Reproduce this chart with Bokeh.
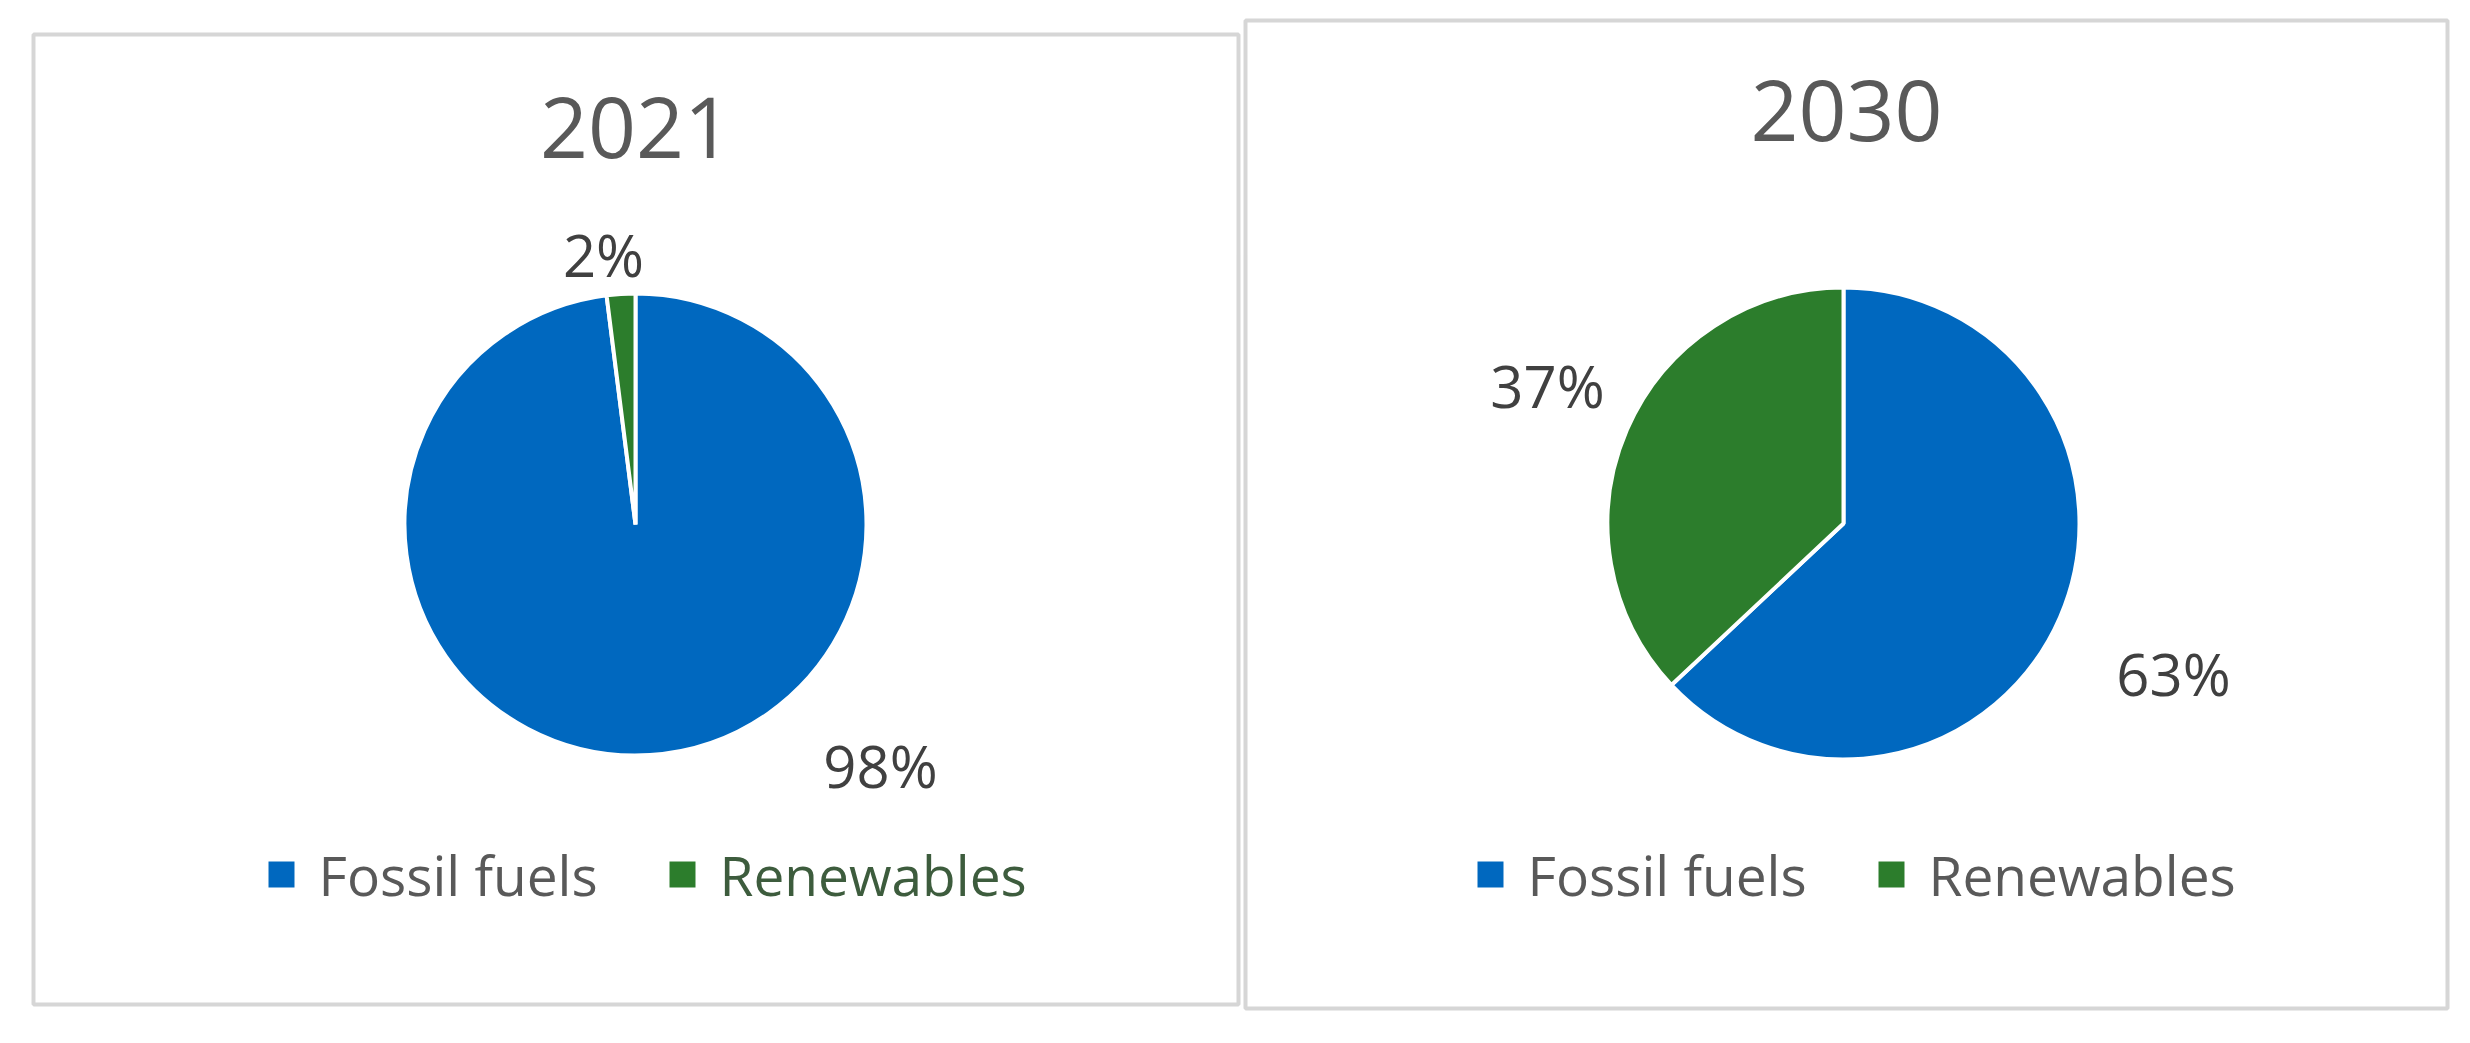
import math
from bokeh.plotting import figure
from bokeh.models import Range1d
from bokeh.core.properties import value
from bokeh.embed import file_html
from bokeh.resources import INLINE

# ---- data ----
years = ["2021", "2030"]
categories = ["Fossil fuels", "Renewables"]
share_2021 = [98, 2]
share_2030 = [63, 37]
shares = [share_2021, share_2030]
colors = ["#0068bf", "#2c7d2c"]

# ---- layout (pixel coordinates inside the figure, y measured from top) ----
W, H = 2454, 1024
panels = [
    dict(box=(33, 34, 1238, 1004), center=(635, 524), r=231, title_y=127,
         legend_y=874, legend_x=281,
         label_off=[(245, 241), (-32, -270)],
         legend_colors=["#595959", "#3d5c3d"]),
    dict(box=(1245, 20, 2447, 1008), center=(1843, 523), r=236, title_y=110,
         legend_y=874, legend_x=1490,
         label_off=[(330, 150), (-296, -138)],
         legend_colors=["#595959", "#595959"]),
]
LEGEND_STEP = 401
LEGEND_TEXT_DX = 37
FONT = "Open Sans"


def Y(y):
    return H - y


p = figure(width=W, height=H, x_range=Range1d(0, W), y_range=Range1d(0, H),
           output_backend="svg", toolbar_location=None, min_border=0)
p.axis.visible = False
p.grid.visible = False
p.outline_line_color = None
p.background_fill_color = "white"
p.border_fill_color = "white"

for year, share, pan in zip(years, shares, panels):
    x0, y0, x1, y1 = pan["box"]
    # panel border
    p.quad(left=[x0], right=[x1], top=[Y(y0)], bottom=[Y(y1)],
           fill_color=None, line_color="#d6d6d6", line_width=4)
    cx, cy = pan["center"]
    # title
    p.text(x=[(x0 + x1) / 2], y=[Y(pan["title_y"])], text=[year],
           text_font=value(FONT), text_font_size="84px", text_color="#595959",
           text_align="center", text_baseline="middle")
    # wedges (clockwise from 12 o'clock)
    total = sum(share)
    cum = 0
    starts, ends = [], []
    for s in share:
        starts.append(math.pi / 2 - 2 * math.pi * cum / total)
        cum += s
        ends.append(math.pi / 2 - 2 * math.pi * cum / total)
    p.wedge(x=[cx] * len(share), y=[Y(cy)] * len(share), radius=pan["r"],
            start_angle=starts, end_angle=ends, direction="clock",
            fill_color=colors, line_color="white", line_width=4)
    # percentage labels
    lx = [cx + dx for dx, dy in pan["label_off"]]
    ly = [Y(cy + dy) for dx, dy in pan["label_off"]]
    p.text(x=lx, y=ly, text=[f"{v}%" for v in share],
           text_font=value(FONT), text_font_size="58px", text_color="#404040",
           text_align="center", text_baseline="middle")
    # legend
    sx = [pan["legend_x"] + i * LEGEND_STEP for i in range(len(categories))]
    sy = [Y(pan["legend_y"])] * len(categories)
    p.scatter(x=sx, y=sy, marker="square", size=26, fill_color=colors,
              line_color=None)
    p.text(x=[v + LEGEND_TEXT_DX for v in sx], y=sy, text=categories,
           text_font=value(FONT), text_font_size="55px",
           text_color=pan["legend_colors"],
           text_align="left", text_baseline="middle")

open("out.html", "w").write(file_html(p, INLINE))
